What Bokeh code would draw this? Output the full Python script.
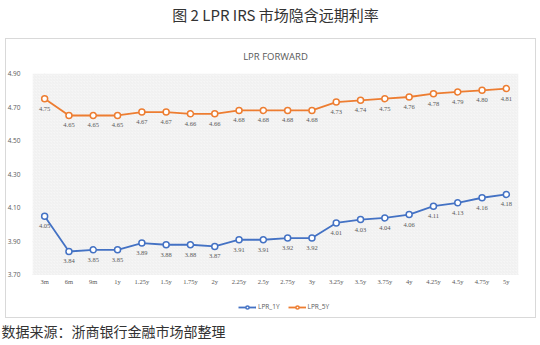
from bokeh.plotting import figure
from bokeh.models import (ColumnDataSource, LabelSet, Legend, LegendItem, CategoricalAxis,
                          FixedTicker, NumeralTickFormatter, BoxAnnotation, Range1d,
                          FactorRange, InlineStyleSheet)
from bokeh.embed import file_html
from bokeh.resources import INLINE

tenors = ["3m", "6m", "9m", "1y", "1.25y", "1.5y", "1.75y", "2y", "2.25y", "2.5y",
          "2.75y", "3y", "3.25y", "3.5y", "3.75y", "4y", "4.25y", "4.5y", "4.75y", "5y"]
lpr_1y = [4.05, 3.84, 3.85, 3.85, 3.89, 3.88, 3.88, 3.87, 3.91, 3.91,
          3.92, 3.92, 4.01, 4.03, 4.04, 4.06, 4.11, 4.13, 4.16, 4.18]
lpr_5y = [4.75, 4.65, 4.65, 4.65, 4.67, 4.67, 4.66, 4.66, 4.68, 4.68,
          4.68, 4.68, 4.73, 4.74, 4.75, 4.76, 4.78, 4.79, 4.80, 4.81]
y_ticks = [3.70, 3.90, 4.10, 4.30, 4.50, 4.70, 4.90]
title_text = "图 2 LPR IRS 市场隐含远期利率"
chart_title = "LPR FORWARD"
source_text = "数据来源：浙商银行金融市场部整理"

BLUE = "#4472C4"
ORANGE = "#ED7D31"
GREY = "#595959"

y_lo, y_hi = y_ticks[0], y_ticks[-1]
src = ColumnDataSource(dict(
    t=tenors, y1=lpr_1y, y5=lpr_5y, base=[y_lo] * len(tenors),
    l1=["%.2f" % v for v in lpr_1y], l5=["%.2f" % v for v in lpr_5y]))

box_css = InlineStyleSheet(css="""
:host::before {
  content: ""; position: absolute; left: 5px; top: 38px; width: 529px; height: 278px;
  border: 1px solid #d9d9d9; pointer-events: none;
}
""")

# frame: x 32..518, y 70..314 ; 3.70 sits at y=274 (extra space below holds labels + legend)
px_per_unit = 204 / (y_hi - y_lo)
p = figure(width=540, height=345, x_range=tenors,
           y_range=Range1d(y_lo - 40 / px_per_unit, y_hi),
           output_backend="svg", toolbar_location=None,
           min_border_left=32, min_border_right=22, min_border_top=70, min_border_bottom=31,
           stylesheets=[box_css])
p.extra_x_ranges = {"toptxt": FactorRange(factors=[" ", chart_title, "  "]),
                    "bottxt": FactorRange(factors=[source_text, " ", "  "])}
p.background_fill_color = "white"
p.border_fill_alpha = 0
p.outline_line_color = None
p.xaxis.visible = False
p.xgrid.visible = False
p.ygrid.grid_line_color = "#e0e0e0"

# hatched plot area
p.add_layout(BoxAnnotation(bottom=y_lo, fill_color="#f6f6f6", fill_alpha=1, line_color=None,
                           hatch_pattern="/", hatch_color="#e8e8e8", hatch_scale=3,
                           hatch_weight=0.5, level="underlay"))
# vertical grid lines at each tenor
p.segment(x0="t", y0=y_lo, x1="t", y1=y_hi, source=src, line_color="#e4e4e4", line_width=1,
          level="underlay")

p.yaxis.ticker = FixedTicker(ticks=y_ticks)
p.yaxis.formatter = NumeralTickFormatter(format="0.00")
ya = p.yaxis[0]
ya.axis_line_color = None
ya.major_tick_line_color = None
ya.minor_tick_line_color = None
ya.major_label_text_font_size = "6.5px"
ya.major_label_text_color = GREY
ya.major_label_text_font = "Open Sans"
ya.major_label_standoff = 6

# top axis carrying the chart titles
top = CategoricalAxis(x_range_name="toptxt",
                      axis_line_color=None, major_tick_line_color=None, minor_tick_line_color=None,
                      major_tick_out=0, major_label_standoff=11,
                      major_label_text_font_size="9.5px", major_label_text_font="Open Sans",
                      major_label_text_color=GREY,
                      axis_label=title_text, axis_label_standoff=22,
                      axis_label_text_font_size="15px", axis_label_text_font="Noto Sans CJK SC",
                      axis_label_text_font_style="normal", axis_label_text_color="#333333")
p.add_layout(top, "above")

# bottom axis carrying the source note
bot = CategoricalAxis(x_range_name="bottxt",
                      axis_line_color=None, major_tick_line_color=None, minor_tick_line_color=None,
                      major_tick_out=0, major_label_standoff=6,
                      major_label_text_font_size="14px", major_label_text_font="Noto Sans CJK SC",
                      major_label_text_color="#333333")
p.add_layout(bot, "below")

l1 = p.line("t", "y1", source=src, line_color=BLUE, line_width=1.8)
s1 = p.scatter("t", "y1", source=src, size=6, line_color=BLUE, fill_color="white", line_width=1.5)
l5 = p.line("t", "y5", source=src, line_color=ORANGE, line_width=1.8)
s5 = p.scatter("t", "y5", source=src, size=6, line_color=ORANGE, fill_color="white", line_width=1.5)

for col, ycol in (("l1", "y1"), ("l5", "y5")):
    p.add_layout(LabelSet(x="t", y=ycol, text=col, source=src, y_offset=-10,
                          text_align="center", text_baseline="middle",
                          text_font_size="6.5px", text_color=GREY, text_font="Open Sans"))

# category labels under the plot area
p.add_layout(LabelSet(x="t", y="base", text="t", source=src, y_offset=-7,
                      text_align="center", text_baseline="middle",
                      text_font_size="6.5px", text_color=GREY, text_font="Open Sans"))

legend = Legend(items=[LegendItem(label="LPR_1Y", renderers=[l1, s1]),
                       LegendItem(label="LPR_5Y", renderers=[l5, s5])],
                orientation="horizontal", location=(206, 3),
                label_text_font_size="6.5px", label_text_color=GREY,
                label_text_font="Open Sans", glyph_width=18, glyph_height=8,
                label_standoff=2, spacing=8, padding=0, margin=0,
                label_height=8, background_fill_alpha=0, border_line_color=None)
p.add_layout(legend, "center")

open("out.html", "w").write(file_html(p, INLINE))
